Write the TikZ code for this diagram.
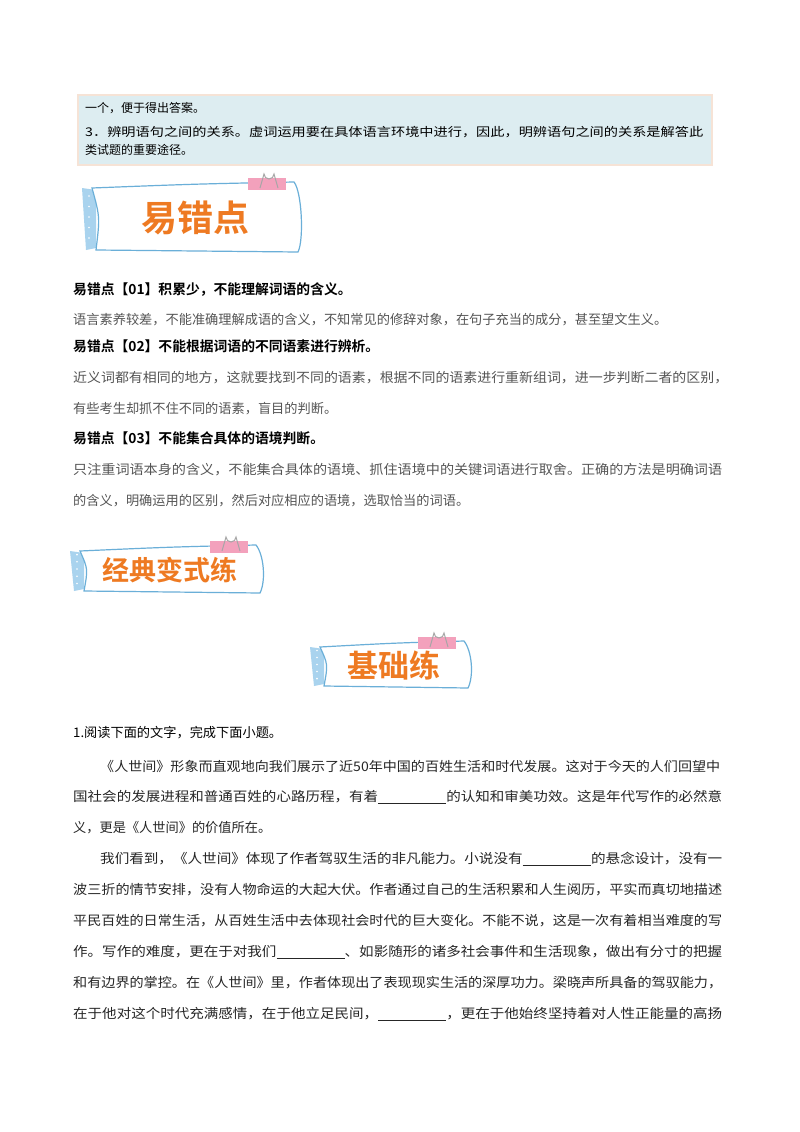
\documentclass[tikz,border=0pt]{standalone}
\usepackage{fontspec}
\setmainfont{Liberation Serif}
\newfontfamily\cjk{Noto Sans CJK SC}
\newfontfamily\cjkb{Noto Sans CJK SC Bold}
\definecolor{boxfill}{HTML}{DDEDF1}
\definecolor{boxline}{HTML}{F6E3D6}
\definecolor{bblue}{HTML}{6AAFD8}
\definecolor{lblue}{HTML}{A9D3EE}
\definecolor{bor}{HTML}{EE7A22}
\definecolor{pink}{HTML}{F3A1BC}
\definecolor{gtxt}{HTML}{555555}
\newcommand{\blankline}{\rule[-2pt]{62pt}{0.6pt}}
\newcommand{\banner}[6]{% x1 y1 x2 y2 text size
  \fill[lblue] (#1-8,#2+6) -- (#1+6,#2+8) -- (#1+6,#4-4) -- (#1-4,#4-2) -- cycle;
  \foreach \k in {0.2,0.35,0.5,0.65,0.8}{\fill[white] (#1-1,{#2+(#4-#2)*\k}) circle (0.9);}
  \draw[bblue,fill=white,line width=1.2pt] (#1+2,#2+6) .. controls ({(#1+#3)/2},#2+2) .. (#3-6,#2) .. controls (#3+2,#2+10) and (#3+4,#4-12) .. (#3-2,#4) -- (#1+6,#4-2) .. controls (#1+10,{(#2+#4)/2}) .. (#1+2,#2+6) -- cycle;
  \fill[pink] (#3-52,#2-4) rectangle (#3-14,#2+8);
  \draw[gray!70,line width=1pt] (#3-40,#2+6) -- (#3-36,#2-8) arc (180:0:5) -- (#3-22,#2+6);
  \node[text=bor,font=\cjkb\fontsize{#6}{#6}\selectfont] at ({(#1+#3)/2},{(#2+#4)/2+1}) {#5};
}
\newcommand{\tline}[3][]{\node[anchor=west,inner sep=0,font=\cjk\fontsize{13.2}{14}\selectfont,text=gtxt,#1] at (73,#2) {#3};}
\newcommand{\fline}[2]{\node[anchor=west,inner sep=0,font=\cjk\fontsize{13.2}{14}\selectfont,text=black!85] at (73,#1) {\resizebox{649pt}{\height}{#2}};}
\begin{document}
\begin{tikzpicture}[x=1pt,y=-1pt]
\useasboundingbox (0,0) rectangle (800,1132);
\fill[white] (0,0) rectangle (800,1132);
% top box
\draw[boxline,fill=boxfill,line width=1.5pt] (78,95) rectangle (712,165);
\node[anchor=west,inner sep=0,font=\cjk\fontsize{12}{13}\selectfont] (t1) at (85,108) {一个，便于得出答案。};
\node[anchor=west,inner sep=0,font=\cjk\fontsize{12}{13}\selectfont] (t2) at (85,132) {\resizebox{618pt}{\height}{3．辨明语句之间的关系。虚词运用要在具体语言环境中进行，因此，明辨语句之间的关系是解答此}};
\node[anchor=west,inner sep=0,font=\cjk\fontsize{12}{13}\selectfont] (t3) at (85,150) {类试题的重要途径。};
% banner 1
\banner{90}{182}{300}{252}{易错点}{36}
% section
\node[anchor=west,inner sep=0,font=\cjkb\fontsize{13.8}{14}\selectfont] (h1) at (73,290) {易错点【01】积累少，不能理解词语的含义。};
\tline{320}{语言素养较差，不能准确理解成语的含义，不知常见的修辞对象，在句子充当的成分，甚至望文生义。}
\node[anchor=west,inner sep=0,font=\cjkb\fontsize{13.8}{14}\selectfont] (h2) at (73,346) {易错点【02】不能根据词语的不同语素进行辨析。};
\node[anchor=west,inner sep=0,font=\cjk\fontsize{13.2}{14}\selectfont,text=gtxt] at (73,378) {\resizebox{655pt}{\height}{近义词都有相同的地方，这就要找到不同的语素，根据不同的语素进行重新组词，进一步判断二者的区别，}};
\tline{409}{有些考生却抓不住不同的语素，盲目的判断。}
\node[anchor=west,inner sep=0,font=\cjkb\fontsize{13.8}{14}\selectfont] (h3) at (73,438) {易错点【03】不能集合具体的语境判断。};
\node[anchor=west,inner sep=0,font=\cjk\fontsize{13.2}{14}\selectfont,text=gtxt] at (73,470) {\resizebox{649pt}{\height}{只注重词语本身的含义，不能集合具体的语境、抓住语境中的关键词语进行取舍。正确的方法是明确词语}};
\tline{501}{的含义，明确运用的区别，然后对应相应的语境，选取恰当的词语。}
% banners
\banner{78}{545}{262}{593}{经典变式练}{27}
\banner{318}{641}{470}{688}{基础练}{31}
% question
\node[anchor=west,inner sep=0,font=\cjk\fontsize{13.2}{14}\selectfont] (q) at (73,733) {1.阅读下面的文字，完成下面小题。};
\node[anchor=west,inner sep=0,font=\cjk\fontsize{13.2}{14}\selectfont,text=black!85] at (100,766) {\resizebox{620pt}{\height}{《人世间》形象而直观地向我们展示了近50年中国的百姓生活和时代发展。这对于今天的人们回望中}};
\fline{797}{国社会的发展进程和普通百姓的心路历程，有着\blankline 的认知和审美功效。这是年代写作的必然意}
\node[anchor=west,inner sep=0,font=\cjk\fontsize{13.2}{14}\selectfont,text=black!85] at (73,828) {义，更是《人世间》的价值所在。};
\node[anchor=west,inner sep=0,font=\cjk\fontsize{13.2}{14}\selectfont,text=black!85] at (100,859) {\resizebox{622pt}{\height}{我们看到，《人世间》体现了作者驾驭生活的非凡能力。小说没有\blankline 的悬念设计，没有一}};
\fline{890}{波三折的情节安排，没有人物命运的大起大伏。作者通过自己的生活积累和人生阅历，平实而真切地描述}
\fline{921}{平民百姓的日常生活，从百姓生活中去体现社会时代的巨大变化。不能不说，这是一次有着相当难度的写}
\fline{952}{作。写作的难度，更在于对我们\blankline 、如影随形的诸多社会事件和生活现象，做出有分寸的把握}
\fline{983}{和有边界的掌控。在《人世间》里，作者体现出了表现现实生活的深厚功力。梁晓声所具备的驾驭能力，}
\fline{1014}{在于他对这个时代充满感情，在于他立足民间，\blankline ，更在于他始终坚持着对人性正能量的高扬}
\end{tikzpicture}
\end{document}
